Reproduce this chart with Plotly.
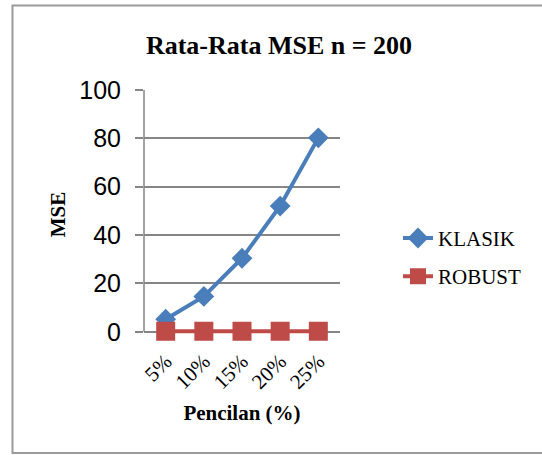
import plotly.graph_objects as go

categories = ["5%", "10%", "15%", "20%", "25%"]
klasik = [5.2, 14.6, 30.4, 52.0, 80.2]
robust = [0.2, 0.2, 0.2, 0.2, 0.2]

fig = go.Figure()
fig.add_trace(go.Scatter(x=categories, y=klasik, name="KLASIK", mode="lines+markers",
                         legendgroup="a", cliponaxis=False,
                         line=dict(color="#4a7ebb", width=4),
                         marker=dict(symbol="diamond", size=16, color="#4a7ebb")))
fig.add_trace(go.Scatter(x=categories, y=robust, name="ROBUST", mode="lines+markers",
                         legendgroup="b", cliponaxis=False,
                         line=dict(color="#be4b48", width=4),
                         marker=dict(symbol="square", size=19, color="#be4b48")))

serif = "Liberation Serif"
W, H = 542, 455
YMIN, YMAX = -3, 100
PXU = 2.42  # pixels per unit
L, T, PW = 144, 90, 196
PH = (YMAX - YMIN) * PXU


def py(pix):
    return (T + PH - pix) / PH


fig.update_layout(
    width=W, height=H,
    margin=dict(l=L, r=W - L - PW, t=T, b=H - T - PH),
    paper_bgcolor="white", plot_bgcolor="white",
    title=dict(text="<b>Rata-Rata MSE n = 200</b>", x=279 / W, xanchor="center",
               y=1 - 45 / H, yanchor="middle",
               font=dict(family=serif, size=26, color="black")),
    showlegend=True,
    legend=dict(x=(398 - L) / PW, y=py(257.5), xanchor="left", yanchor="middle",
                font=dict(family=serif, size=21, color="black"),
                tracegroupgap=8, bgcolor="rgba(0,0,0,0)"),
    xaxis=dict(type="category", tickangle=-45, showgrid=False,
               showline=False, ticklabelstandoff=5,
               tickfont=dict(family=serif, size=21, color="black"),
               ticks="", title=dict(text="<b>Pencilan (%)</b>", standoff=12,
                                     font=dict(family=serif, size=21, color="black"))),
    yaxis=dict(range=[YMIN, YMAX], tickvals=[0, 20, 40, 60, 80, 100],
               showgrid=True, gridcolor="#868686", gridwidth=1.5,
               showline=False,
               zeroline=True, zerolinecolor="#868686", zerolinewidth=1.5,
               ticks="outside", ticklen=8, tickcolor="#868686", tickwidth=1.5,
               ticklabelstandoff=9,
               tickfont=dict(family="Liberation Sans", size=25, color="black"),
               title=dict(text="<b>MSE</b>", standoff=7,
                          font=dict(family=serif, size=21, color="black"))),
    shapes=[
        dict(type="rect", xref="paper", yref="paper",
             x0=(12.5 - L) / PW, x1=(548 - L) / PW,
             y0=py(453.5), y1=py(5.5),
             line=dict(color="#9a9a9a", width=2), layer="below"),
        dict(type="line", xref="paper", yref="y", x0=0, x1=0, y0=0, y1=YMAX,
             line=dict(color="#868686", width=1.5), layer="below"),
    ],
)
fig.write_html("out.html", config={"displayModeBar": False},
               post_script="document.body.style.margin='0';")
